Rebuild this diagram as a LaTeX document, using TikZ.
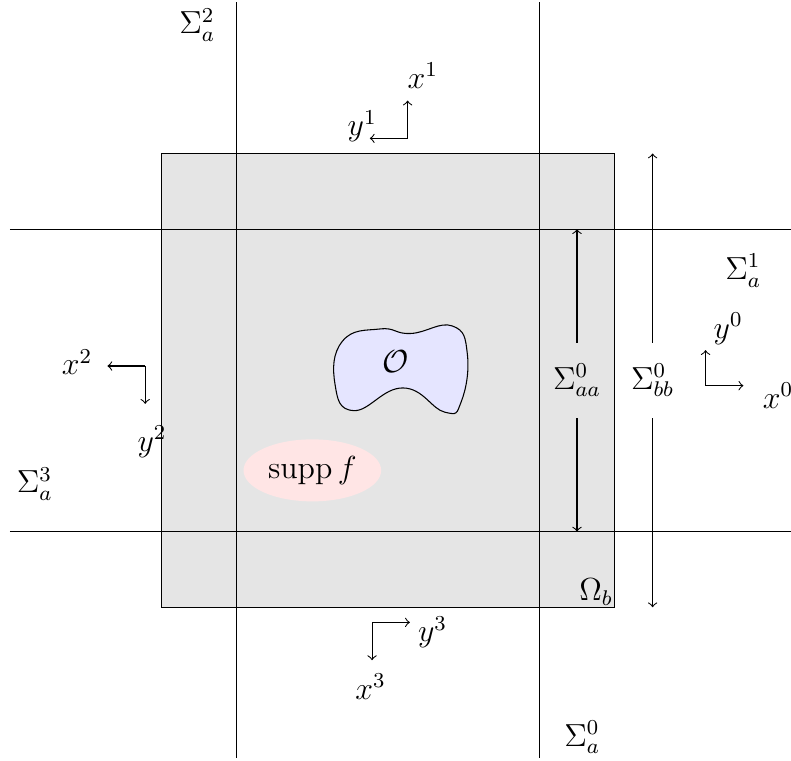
\documentclass[tikz,border=0pt]{standalone}
\usetikzlibrary{shapes.geometric}
\begin{document}
\begin{tikzpicture}[
  every node/.style={font=\large},
  ax/.style={->},
  dim/.style={->}]
\useasboundingbox (-5.13,-5.02) rectangle (5.33,5.03);
% domain
\draw[fill=gray!20] (-3,-3) rectangle (3,3);
% lines
\coordinate (vlt) at (-2,5); \coordinate (vlb) at (-2,-5);
\coordinate (vrt) at (2,5); \coordinate (vrb) at (2,-5);
\coordinate (hul) at (-5,2); \coordinate (hur) at (5.5,2);
\coordinate (hll) at (-5,-2); \coordinate (hlr) at (5.5,-2);
\draw (vlt) -- (vlb);
\draw (vrt) -- (vrb);
\draw (hul) -- (hur);
\draw (hll) -- (hlr);
% O blob
\draw[fill=blue!10] plot[smooth cycle, tension=0.8] coordinates {
 (-0.6,0.52) (-0.1,0.68) (0.3,0.62) (0.85,0.72) (1.05,0.35)
 (0.97,-0.28) (0.75,-0.42) (0.2,-0.1) (-0.45,-0.4) (-0.7,-0.05)};
\node (O) at (0.1,0.25) {$\mathcal{O}$};
% supp f
\node[ellipse, fill=red!10, inner sep=0pt, minimum width=1.82cm, minimum height=0.82cm] (supp) at (-1.0,-1.19) {$\mathrm{supp}\, f$};
% dimension arrows
\node (saa) at (2.5,0) {$\Sigma^0_{aa}$};
\node (sbb) at (3.5,0) {$\Sigma^0_{bb}$};
\coordinate (saat) at (2.5,0.5); \coordinate (saab) at (2.5,-0.5);
\coordinate (saaT) at (2.5,2); \coordinate (saaB) at (2.5,-2);
\coordinate (sbbt) at (3.5,0.5); \coordinate (sbbb) at (3.5,-0.5);
\coordinate (sbbT) at (3.5,3); \coordinate (sbbB) at (3.5,-3);
\draw[dim] (saat) -- (saaT);
\draw[dim] (saab) -- (saaB);
\draw[dim] (sbbt) -- (sbbT);
\draw[dim] (sbbb) -- (sbbB);
% Omega_b
\node[anchor=south east, inner sep=0.5pt] (Om) at (3,-3) {$\Omega_b$};
% Sigma labels
\node (S2) at (-2.52,4.70) {$\Sigma^2_a$};
\node (S1) at (4.70,1.45) {$\Sigma^1_a$};
\node (S3) at (-4.67,-1.37) {$\Sigma^3_a$};
\node (S0) at (2.57,-4.72) {$\Sigma^0_a$};
% axes 1 (top)
\coordinate (c1) at (0.26,3.2);
\coordinate (c1u) at (0.26,3.7);
\coordinate (c1l) at (-0.24,3.2);
\draw[ax] (c1) -- (c1u);
\draw[ax] (c1) -- (c1l);
\node (x1) at (0.46,4.03) {$x^1$};
\node (y1) at (-0.34,3.36) {$y^1$};
% axes 2 (left)
\coordinate (c2) at (-3.21,0.19);
\coordinate (c2l) at (-3.71,0.19);
\coordinate (c2d) at (-3.21,-0.31);
\draw[ax] (c2) -- (c2l);
\draw[ax] (c2) -- (c2d);
\node (x2) at (-4.11,0.24) {$x^2$};
\node (y2) at (-3.12,-0.81) {$y^2$};
% axes 3 (bottom)
\coordinate (c3) at (-0.21,-3.2);
\coordinate (c3r) at (0.29,-3.2);
\coordinate (c3d) at (-0.21,-3.7);
\draw[ax] (c3) -- (c3r);
\draw[ax] (c3) -- (c3d);
\node (y3) at (0.59,-3.33) {$y^3$};
\node (x3) at (-0.23,-4.05) {$x^3$};
% axes 0 (right)
\coordinate (c0) at (4.2,-0.07);
\coordinate (c0u) at (4.2,0.4);
\coordinate (c0r) at (4.7,-0.07);
\draw[ax] (c0) -- (c0u);
\draw[ax] (c0) -- (c0r);
\node (y0) at (4.5,0.68) {$y^0$};
\node (x0) at (5.16,-0.2) {$x^0$};
\end{tikzpicture}
\end{document}
